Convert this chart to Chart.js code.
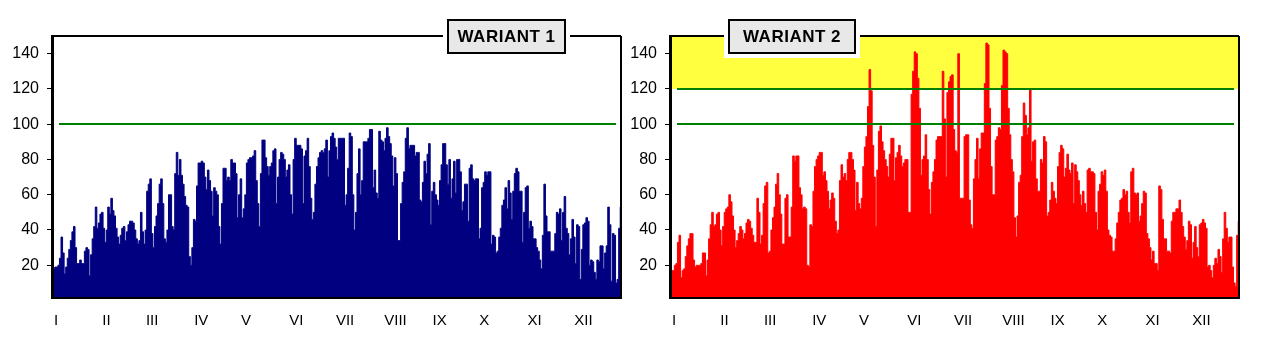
<!DOCTYPE html>
<html>
<head>
<meta charset="utf-8">
<title>Wariant 1 / Wariant 2</title>
<script src="https://cdn.jsdelivr.net/npm/chart.js@4.4.1/dist/chart.umd.min.js"></script>
<style>
  html, body { margin: 0; background: #fff; }
  #wrap { position: relative; width: 1274px; height: 359px; overflow: hidden; }
  canvas { position: absolute; top: 0; }
</style>
</head>
<body>
<div id="wrap">
  <canvas id="chart1" width="637" height="359" style="left:0"></canvas>
  <canvas id="chart2" width="637" height="359" style="left:618px"></canvas>
</div>
<script>
// daily values (Jan 1 .. Dec 31)
const wariant1 = [
  18,19,19,20,24,36,27,15,19,24, 29,34,39,42,30,21,21,23,21,21,
  28,30,29,14,26,35,42,53,41,44, 49,50,41,33,40,53,49,58,51,48,
  41,36,32,37,41,42,34,39,43,45, 45,44,40,35,32,34,50,39,32,40,
  62,66,69,38,30,42,48,55,66,69, 55,35,33,40,60,60,42,40,72,84,
  71,80,71,66,59,54,53,25,20,30, 46,45,65,78,78,79,78,70,63,74,
  68,62,48,64,62,60,42,32,55,75, 75,68,70,68,80,78,78,72,47,60,
  69,47,52,60,78,80,81,81,82,85, 68,55,42,72,91,91,81,76,71,76,
  78,85,86,55,70,80,84,83,80,70, 74,77,60,49,80,92,88,88,88,86,
  55,82,85,92,76,58,46,50,66,76, 81,84,85,84,86,91,70,85,93,95,
  92,87,80,92,92,92,92,54,60,75, 95,93,60,40,50,72,86,60,68,90,
  90,90,92,97,97,64,74,61,58,96, 91,90,85,92,98,93,89,82,65,81,
  72,34,34,55,67,73,92,98,86,88, 88,88,82,84,84,57,56,67,79,72,
  83,89,43,62,67,60,57,54,68,77, 89,89,77,66,80,58,69,79,61,80,
  80,73,51,56,66,66,45,75,77,69, 68,69,69,35,41,64,67,73,71,73,
  73,32,37,36,27,28,36,41,54,57, 64,52,68,61,46,62,72,75,73,62,
  62,33,50,64,65,41,45,42,35,35, 30,28,23,18,37,66,48,39,39,28,
  28,28,38,50,49,52,34,50,59,41, 38,26,35,46,36,21,43,42,12,29,
  43,44,47,45,20,23,22,16,12,23, 22,31,31,18,27,31,53,43,11,38,
  37,10,12,41,53
];

const wariant2 = [
  17,17,20,21,33,37,13,17,18,25, 31,35,38,38,23,19,20,20,20,21,
  27,27,14,23,35,43,50,42,43,49, 50,40,31,42,50,52,53,60,56,48,
  40,30,34,38,42,40,35,38,44,46, 45,41,37,33,33,58,50,32,37,55,
  65,67,27,28,40,47,53,66,72,60, 49,32,32,58,60,36,36,53,82,79,
  82,82,64,60,52,53,52,20,19,43, 42,62,76,80,82,84,84,71,73,68,
  62,52,57,61,58,45,38,40,68,77, 70,72,68,80,84,84,80,74,51,67,
  55,52,58,76,87,93,110,131,119,88, 70,42,74,96,99,90,85,80,76,70,
  83,92,92,68,81,84,88,82,76,78, 80,80,50,50,117,130,141,140,126,109,
  71,80,82,94,80,63,49,67,73,80, 91,93,93,93,130,103,70,118,124,127,
  128,97,85,84,140,58,58,58,93,94, 94,57,43,41,69,80,92,69,86,95,
  95,123,146,145,109,76,60,60,91,93, 98,97,122,142,141,140,109,94,80,73,
  47,36,48,67,71,93,112,105,94,98, 120,79,90,91,69,62,62,80,78,93,
  90,48,50,57,67,62,58,55,76,84, 88,86,70,75,83,74,72,78,55,77,
  73,68,60,54,62,55,50,74,75,73, 73,72,50,40,62,66,73,71,74,62,
  40,37,36,28,28,35,44,50,57,58, 63,60,62,50,44,73,75,61,60,61,
  45,48,55,62,61,38,35,30,23,28, 21,21,17,65,63,46,35,35,28,28,
  27,45,50,50,52,52,57,50,42,36, 29,34,45,43,24,33,42,30,25,43,
  44,46,44,41,19,20,17,13,20,24, 21,29,25,16,35,50,41,33,36,36,
  19,10,8,37,45
];

const monthStarts = [0, 31, 59, 90, 120, 151, 181, 212, 243, 273, 304, 334];
const monthLabels = ['I', 'II', 'III', 'IV', 'V', 'VI', 'VII', 'VIII', 'IX', 'X', 'XI', 'XII'];
const yTicks = [20, 40, 60, 80, 100, 120, 140];
const limits1 = [100];
const limits2 = [100, 120];
const band2 = [120, 150];

Chart.defaults.font.family = "'Liberation Sans', Arial, sans-serif";
Chart.defaults.color = '#000';

// band, limit lines, frame and title box
const decorations = {
  id: 'decorations',
  beforeDatasetsDraw(chart, args, o) {
    if (!o.band) return;
    const { ctx, chartArea: a, scales: { y } } = chart;
    const top = y.getPixelForValue(o.band[1]);
    const bot = y.getPixelForValue(o.band[0]);
    ctx.save();
    ctx.fillStyle = '#ffff40';
    ctx.fillRect(a.left, top, a.right - a.left, bot - top);
    ctx.restore();
  },
  afterDatasetsDraw(chart, args, o) {
    const { ctx, chartArea: a, scales: { y } } = chart;
    ctx.save();
    ctx.strokeStyle = '#008000';
    ctx.lineWidth = 2;
    o.limits.forEach(v => {
      const py = Math.round(y.getPixelForValue(v));
      ctx.beginPath();
      ctx.moveTo(a.left + 5, py);
      ctx.lineTo(a.right - 5, py);
      ctx.stroke();
    });
    ctx.restore();
  },
  afterDraw(chart, args, o) {
    const { ctx, chartArea: a } = chart;
    ctx.save();
    ctx.strokeStyle = '#000';
    ctx.lineWidth = 2;
    ctx.beginPath();
    ctx.moveTo(a.left, a.top); ctx.lineTo(a.right, a.top);
    ctx.moveTo(a.right, a.top); ctx.lineTo(a.right, a.bottom);
    ctx.moveTo(a.left, a.bottom + 1); ctx.lineTo(a.right + 1, a.bottom + 1);
    ctx.stroke();
    ctx.lineWidth = 3;
    ctx.beginPath();
    ctx.moveTo(a.left - 1.5, a.top - 1); ctx.lineTo(a.left - 1.5, a.bottom + 2);
    ctx.stroke();

    const b = o.box;
    ctx.fillStyle = '#fff';
    ctx.fillRect(b.x - 4, b.y - 4, b.w + 8, b.h + 8);
    ctx.fillStyle = '#e8e8e8';
    ctx.fillRect(b.x, b.y, b.w, b.h);
    ctx.lineWidth = 2;
    ctx.strokeRect(b.x + 1, b.y + 1, b.w - 2, b.h - 2);
    ctx.fillStyle = '#000';
    ctx.font = "bold 17px 'Liberation Sans', Arial, sans-serif";
    ctx.letterSpacing = '0.5px';
    ctx.textAlign = 'center';
    ctx.textBaseline = 'middle';
    ctx.fillText(o.title, b.x + b.w / 2, b.y + b.h / 2 + 1);
    ctx.restore();
  }
};

function makeChart(id, values, color, limits, band, title, box) {
  return new Chart(document.getElementById(id), {
    type: 'line',
    data: {
      datasets: [{
        data: values.map((v, i) => ({ x: i, y: v })),
        borderColor: color,
        backgroundColor: color,
        borderWidth: 1,
        pointRadius: 0,
        stepped: 'middle',
        fill: 'start'
      }]
    },
    options: {
      responsive: false,
      animation: false,
      layout: { padding: { top: 36, right: 16, bottom: 22, left: 0 } },
      plugins: {
        legend: { display: false },
        tooltip: { enabled: false },
        decorations: { limits, band, title, box }
      },
      scales: {
        x: {
          type: 'linear',
          min: 0,
          max: 364,
          afterBuildTicks: s => { s.ticks = monthStarts.map(v => ({ value: v })); },
          afterFit: s => { s.height = 40; },
          grid: { display: false, drawTicks: false },
          border: { display: false },
          ticks: {
            autoSkip: false,
            maxRotation: 0,
            align: 'start',
            padding: 15,
            font: { size: 15 },
            callback: (v, i) => monthLabels[i]
          }
        },
        y: {
          min: 2,
          max: 150,
          afterBuildTicks: s => { s.ticks = yTicks.map(v => ({ value: v })); },
          afterFit: s => { s.width = 54; },
          grid: { drawOnChartArea: false, drawTicks: true, tickLength: 7, color: '#000', lineWidth: 1 },
          border: { display: false },
          ticks: { padding: 8, font: { size: 16 } }
        }
      }
    },
    plugins: [decorations]
  });
}

makeChart('chart1', wariant1, '#000080', limits1, null, 'WARIANT 1', { x: 447, y: 19, w: 119, h: 35 });
makeChart('chart2', wariant2, '#ff0000', limits2, band2, 'WARIANT 2', { x: 110, y: 19, w: 128, h: 35 });
</script>
</body>
</html>
